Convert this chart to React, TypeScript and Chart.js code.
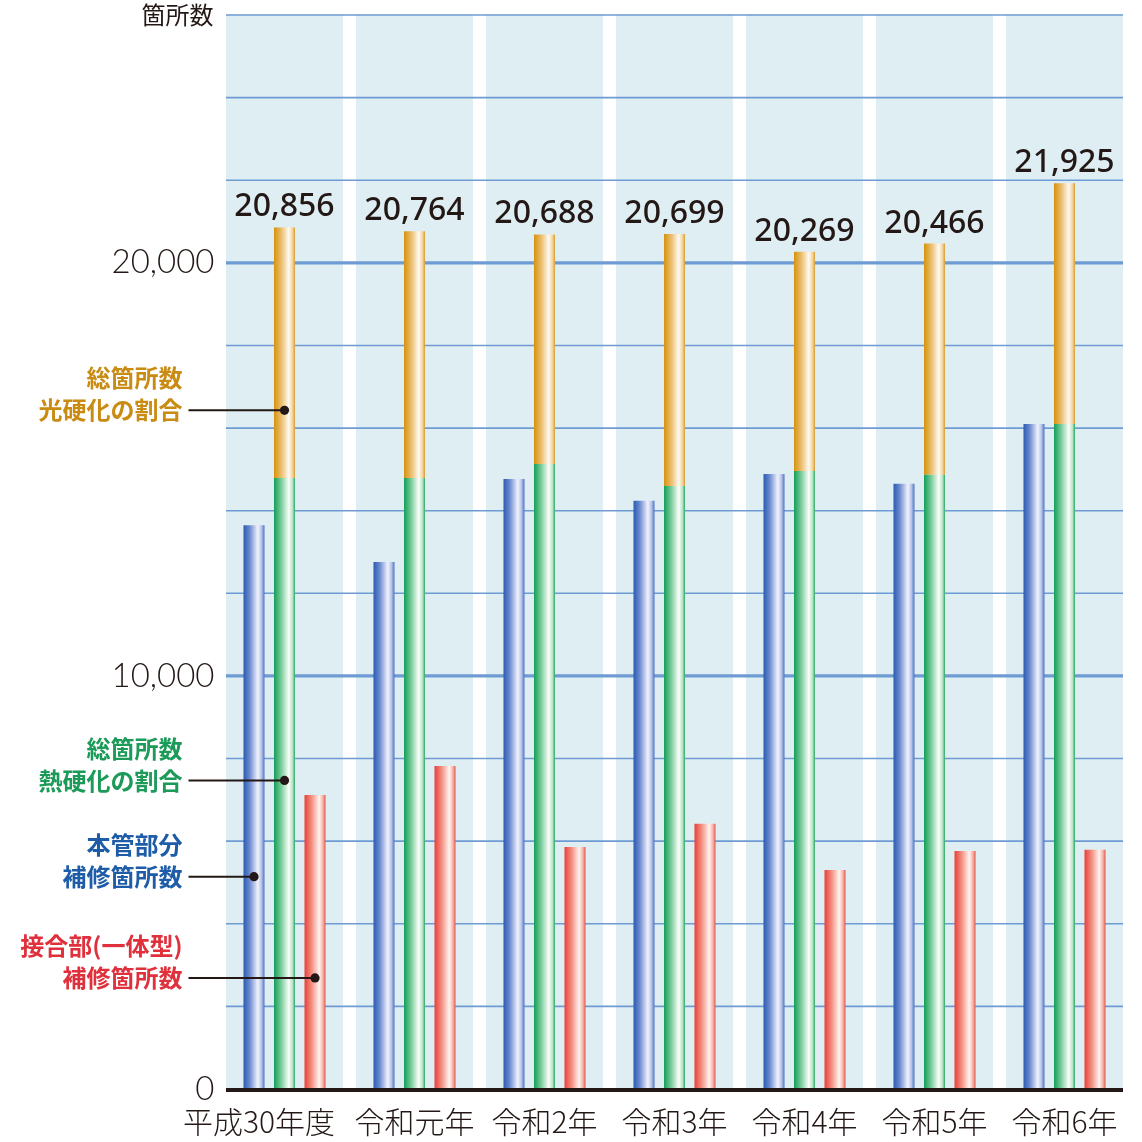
import React, { useEffect, useRef } from 'react';
import { Chart, registerables } from 'chart.js';

Chart.register(...registerables);

// ---- data ----
const categories = ['平成30年度', '令和元年', '令和2年', '令和3年', '令和4年', '令和5年', '令和6年'];
const mainPipeRepairs = [13650, 12760, 14770, 14240, 14890, 14650, 16100];
const heatCuredPart = [14790, 14790, 15130, 14600, 14960, 14870, 16100];
const totalCounts = [20856, 20764, 20688, 20699, 20269, 20466, 21925];
const lightCuredPart = totalCounts.map((t, i) => t - heatCuredPart[i]);
const jointRepairs = [7120, 7820, 5860, 6420, 5300, 5760, 5790];
const yMax = 26000;
const yStep = 2000;
const yLabelEvery = 10000;
const axisTitle = '箇所数';

const annotationTexts = [
  { lines: ['総箇所数', '光硬化の割合'], color: '#c98b12', dataset: 2, anchor: 16430 },
  { lines: ['総箇所数', '熱硬化の割合'], color: '#1b9a58', dataset: 1, anchor: 7470 },
  { lines: ['本管部分', '補修箇所数'], color: '#1e5ca8', dataset: 0, anchor: 5140 },
  { lines: ['接合部(一体型)', '補修箇所数'], color: '#e0303c', dataset: 3, anchor: 2690 },
];

// ---- styles ----
const TEXT = '#231815';
const BAND = '#dfeef3';
const GRID = '#6f9bd4';
const CJK = "'Noto Sans CJK JP', 'Noto Sans', sans-serif";

type Stop = [number, string];
const blueStops: Stop[] = [[0, '#2a5bb0'], [0.3, '#6d8bd0'], [0.68, '#f2f2fc'], [0.85, '#b9c6ea'], [1, '#4b73c2']];
const greenStops: Stop[] = [[0, '#139e58'], [0.35, '#7ccd9c'], [0.7, '#fbfefb'], [0.88, '#b9e3c7'], [1, '#28a863']];
const orangeStops: Stop[] = [[0, '#d5920c'], [0.35, '#ebbd6e'], [0.7, '#fffaf0'], [0.88, '#f1d39f'], [1, '#d99d2c']];
const redStops: Stop[] = [[0, '#e83f3b'], [0.35, '#f39283'], [0.7, '#fff3f0'], [0.88, '#f6b1a6'], [1, '#e65449']];

function gradientBg(stops: Stop[], fallback: string) {
  return (c: any) => {
    const el = c.element;
    if (!el || typeof el.x !== 'number' || !el.width || isNaN(el.x)) return fallback;
    const g = c.chart.ctx.createLinearGradient(el.x - el.width / 2, 0, el.x + el.width / 2, 0);
    stops.forEach(([o, col]) => g.addColorStop(o, col));
    return g;
  };
}

const decorPlugin = {
  id: 'decor',
  beforeDatasetsDraw(chart: any) {
    const { ctx, chartArea, scales } = chart;
    const x = scales.x;
    const y = scales.y;
    const n = categories.length;
    const cw = x.width / n;
    const bw = cw * 0.9;
    ctx.save();
    ctx.fillStyle = BAND;
    for (let i = 0; i < n; i++) {
      const cx = x.getPixelForValue(i);
      ctx.fillRect(cx - bw / 2, chartArea.top - 1, bw, chartArea.bottom - chartArea.top + 1);
    }
    const left = x.getPixelForValue(0) - bw / 2;
    const right = x.getPixelForValue(n - 1) + bw / 2;
    ctx.strokeStyle = GRID;
    y.ticks.forEach((t: any) => {
      if (t.value === 0) return;
      const py = y.getPixelForValue(t.value);
      ctx.lineWidth = t.value % yLabelEvery === 0 ? 3.2 : 1.6;
      ctx.beginPath();
      ctx.moveTo(left, py);
      ctx.lineTo(right, py);
      ctx.stroke();
    });
    ctx.restore();
  },
  afterDatasetsDraw(chart: any) {
    const { ctx, chartArea, scales } = chart;
    const x = scales.x;
    const y = scales.y;
    const n = categories.length;
    const cw = x.width / n;
    const bw = cw * 0.9;
    const left = x.getPixelForValue(0) - bw / 2;
    const right = x.getPixelForValue(n - 1) + bw / 2;
    ctx.save();
    // baseline
    const y0 = y.getPixelForValue(0);
    ctx.strokeStyle = TEXT;
    ctx.lineWidth = 4;
    ctx.beginPath();
    ctx.moveTo(left, y0 + 1);
    ctx.lineTo(right, y0 + 1);
    ctx.stroke();

    // category labels
    ctx.fillStyle = TEXT;
    ctx.font = `300 30px ${CJK}`;
    ctx.textBaseline = 'middle';
    categories.forEach((lab, i) => {
      const cx = x.getPixelForValue(i);
      const w = ctx.measureText(lab).width;
      if (w > cw) {
        ctx.textAlign = 'right';
        ctx.fillText(lab, cx + bw / 2 - 8, y0 + 33);
      } else {
        ctx.textAlign = 'center';
        ctx.fillText(lab, cx, y0 + 33);
      }
    });

    // totals above stacked bars
    const topMeta = chart.getDatasetMeta(2);
    ctx.fillStyle = TEXT;
    ctx.font = "500 32px 'Noto Sans', sans-serif";
    ctx.textAlign = 'center';
    ctx.textBaseline = 'alphabetic';
    topMeta.data.forEach((el: any, i: number) => {
      ctx.fillText(totalCounts[i].toLocaleString('en-US'), el.x, el.y - 11);
    });

    // axis title
    ctx.font = `400 24px ${CJK}`;
    ctx.textAlign = 'right';
    ctx.textBaseline = 'middle';
    ctx.fillText(axisTitle, chartArea.left - 6, chartArea.top);

    // annotations
    const textRight = chartArea.left - 37;
    const lineStart = chartArea.left - 31;
    annotationTexts.forEach((a) => {
      const el = chart.getDatasetMeta(a.dataset).data[0];
      const dx = el.x;
      const dy = y.getPixelForValue(a.anchor);
      ctx.strokeStyle = TEXT;
      ctx.lineWidth = 2;
      ctx.beginPath();
      ctx.moveTo(lineStart, dy);
      ctx.lineTo(dx, dy);
      ctx.stroke();
      ctx.fillStyle = TEXT;
      ctx.beginPath();
      ctx.arc(dx, dy, 4.6, 0, Math.PI * 2);
      ctx.fill();
      ctx.fillStyle = a.color;
      ctx.font = `700 24px ${CJK}`;
      ctx.textAlign = 'right';
      ctx.textBaseline = 'middle';
      ctx.fillText(a.lines[1], textRight, dy);
      ctx.fillText(a.lines[0], textRight, dy - 32);
    });
    ctx.restore();
  },
};

export default function App() {
  const ref = useRef<HTMLCanvasElement | null>(null);
  useEffect(() => {
    document.body.style.margin = '0';
    const canvas = ref.current;
    if (!canvas) return;
    const common = { categoryPercentage: 0.704, barPercentage: 0.689, borderWidth: 0 };
    const chart = new Chart(canvas, {
      type: 'bar',
      data: {
        labels: categories,
        datasets: [
          { label: '本管部分補修箇所数', data: mainPipeRepairs, stack: 's1', backgroundColor: gradientBg(blueStops, '#4b73c2'), ...common },
          { label: '熱硬化', data: heatCuredPart, stack: 's2', backgroundColor: gradientBg(greenStops, '#28a863'), ...common },
          { label: '光硬化', data: lightCuredPart, stack: 's2', backgroundColor: gradientBg(orangeStops, '#d99d2c'), ...common },
          { label: '接合部(一体型)補修箇所数', data: jointRepairs, stack: 's3', backgroundColor: gradientBg(redStops, '#e65449'), ...common },
        ],
      },
      options: {
        animation: false,
        responsive: false,
        layout: { padding: { left: 0, right: 12.5, top: 15, bottom: 0 } },
        plugins: { legend: { display: false }, tooltip: { enabled: false } },
        scales: {
          x: {
            stacked: true,
            offset: true,
            grid: { display: false, drawTicks: false },
            border: { display: false },
            ticks: { display: false },
            afterFit: (s: any) => {
              s.height = 53;
              s.paddingLeft = 0;
              s.paddingRight = 0;
            },
          },
          y: {
            stacked: true,
            min: 0,
            max: yMax,
            grid: { display: false, drawTicks: false },
            border: { display: false },
            ticks: {
              stepSize: yStep,
              callback: (v: any) => (Number(v) % yLabelEvery === 0 ? Number(v).toLocaleString('en-US') : ''),
              font: { family: "Lato, 'Noto Sans', sans-serif", size: 33, weight: '300' },
              color: TEXT,
              padding: 5,
            },
            afterFit: (s: any) => {
              s.width = 219.5;
              s.paddingTop = 0;
              s.paddingBottom = 0;
            },
          },
        },
      },
      plugins: [decorPlugin],
    } as any);
    chart.update();
    return () => chart.destroy();
  }, []);
  return (
    <div style={{ position: 'absolute', left: 0, top: 0, width: 1142, height: 1142, background: '#fff' }}>
      <canvas ref={ref} width={1142} height={1142} style={{ width: 1142, height: 1142, display: 'block' }} />
    </div>
  );
}
